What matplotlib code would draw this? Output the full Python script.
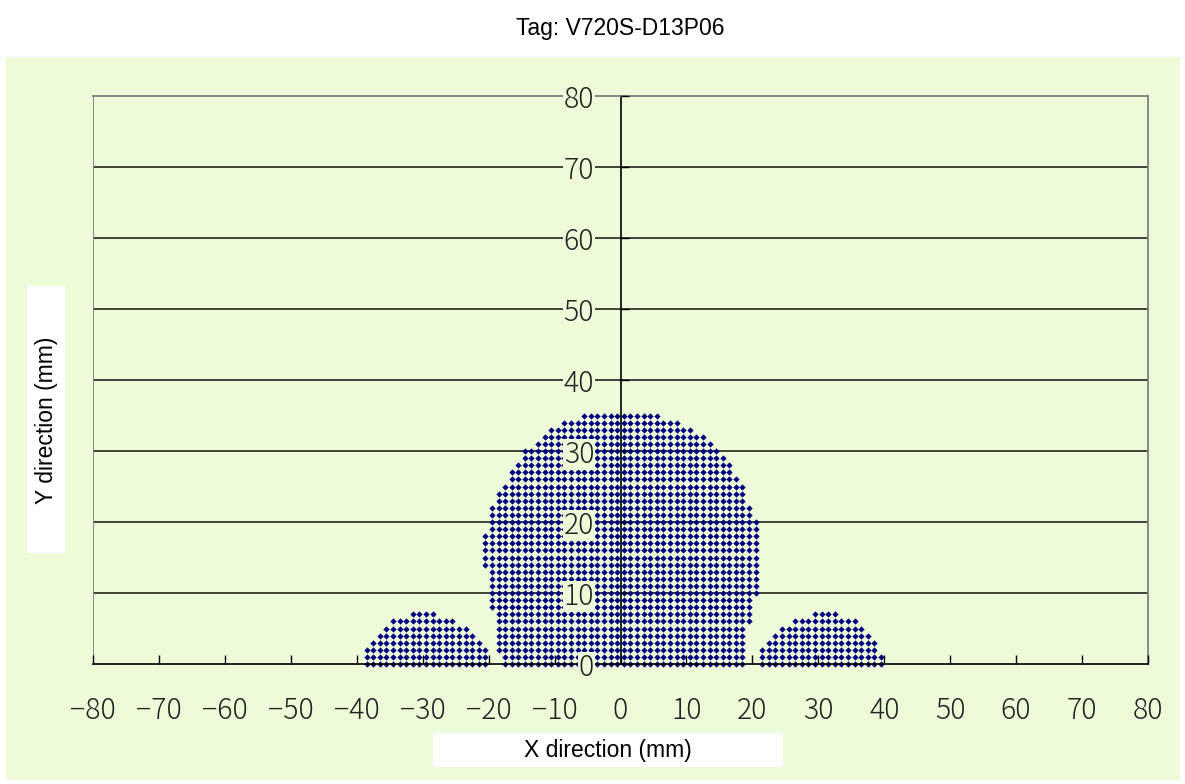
import matplotlib.pyplot as plt
import numpy as np
from matplotlib.patches import Rectangle

W, H = 1185, 784
GREEN = "#eefbd9"

# measured area, one row per y (mm); first / last x (mm) of the row, dots every 1 mm
center_y = list(range(0, 36))
center_x_from = [-17.5, -17.5, -18.5, -18.5, -18.5, -18.5, -18.5, -18.5, -19.5, -19.5,
                 -19.5, -19.5, -19.5, -19.5, -20.5, -20.5, -20.5, -20.5, -20.5, -19.5,
                 -19.5, -19.5, -19.5, -18.5, -18.5, -17.5, -16.5, -16.5, -15.5, -14.5,
                 -14.5, -12.5, -11.5, -10.5, -8.5, -5.5]
center_x_to = [18.5, 18.5, 18.5, 18.5, 18.5, 18.5, 19.5, 19.5, 19.5, 19.5,
               20.5, 20.5, 20.5, 20.5, 20.5, 20.5, 20.5, 20.5, 20.5, 20.5,
               20.5, 19.5, 19.5, 18.5, 18.5, 18.5, 17.5, 16.5, 16.5, 15.5,
               14.5, 13.5, 12.5, 10.5, 8.5, 5.5]

left_y = list(range(0, 8))
left_x_from = [-38.5, -38.5, -38.5, -37.5, -36.5, -35.5, -34.5, -31.5]
left_x_to = [-20.5, -20.5, -20.5, -21.5, -22.5, -23.5, -25.5, -28.5]

right_y = list(range(0, 8))
right_x_from = [21.5, 21.5, 21.5, 22.5, 23.5, 24.5, 26.5, 29.5]
right_x_to = [39.5, 39.5, 38.5, 38.5, 37.5, 36.5, 35.5, 32.5]

x_ticks = list(range(-80, 81, 10))
y_ticks = list(range(0, 81, 10))

title = "Tag: V720S-D13P06"
x_label = "X direction (mm)"
y_label = "Y direction (mm)"

xs, ys = [], []
for rows, x_from, x_to in [(center_y, center_x_from, center_x_to),
                           (left_y, left_x_from, left_x_to),
                           (right_y, right_x_from, right_x_to)]:
    for y, a, b in zip(rows, x_from, x_to):
        row = np.arange(a, b + 0.5, 1.0)
        xs.extend(row)
        ys.extend([y] * len(row))

tick_font = ['Noto Sans CJK JP', 'DejaVu Sans']
label_font = ['Liberation Sans', 'DejaVu Sans']

fig = plt.figure(figsize=(W / 100, H / 100), dpi=100)

# green chart area
fig.patches.append(Rectangle((6 / W, 1 - 780 / H), (1180 - 6) / W, (780 - 57) / H,
                             transform=fig.transFigure, facecolor=GREEN,
                             edgecolor='none', zorder=-5))

ax = fig.add_axes([93 / W, 1 - 664 / H, (1148 - 93) / W, (664 - 96) / H])
ax.set_facecolor('none')
ax.set_xlim(-80, 80)
ax.set_ylim(0, 80)
ax.set_axisbelow(False)

for y in y_ticks[1:-1]:
    ax.axhline(y, color='#111111', lw=1.1, zorder=1)
ax.axvline(-80, color='#808080', lw=1.3, zorder=1)

ax.plot(xs, ys, linestyle='none', marker='D', ms=3.2, mfc='#000080', mec='#000080',
        mew=0.0, clip_on=False, zorder=2.2)

ax.spines['left'].set_position(('data', 0))
ax.spines['left'].set_color('black')
ax.spines['left'].set_linewidth(1.2)
ax.spines['bottom'].set_color('black')
ax.spines['bottom'].set_linewidth(1.2)
ax.spines['top'].set_color('#808080')
ax.spines['top'].set_linewidth(1.3)
ax.spines['right'].set_color('#808080')
ax.spines['right'].set_linewidth(1.3)

ax.set_xticks(x_ticks)
ax.set_xticklabels([str(v).replace('-', '\u2212') for v in x_ticks])
ax.set_yticks(y_ticks)
ax.set_yticklabels([str(v) for v in y_ticks])
ax.tick_params(axis='x', direction='in', length=6.5, width=1.0, color='black', pad=23,
               labelsize=20.5, labelcolor='#222222')
ax.tick_params(axis='y', direction='in', length=6, width=1.0, color='black', pad=19,
               labelsize=20.5, labelcolor='#222222')
for lab in ax.get_xticklabels() + ax.get_yticklabels():
    lab.set_family(tick_font)
    lab.set_fontweight('light')
for lab in ax.get_yticklabels():
    lab.set_bbox(dict(facecolor=GREEN, edgecolor='none', pad=0.5))

# title and axis title boxes
fig.text(620 / W, 1 - 28 / H, title, ha='center', va='center', fontsize=16.5,
         family=label_font)

fig.patches.append(Rectangle((27 / W, 1 - 553 / H), 38 / W, (553 - 286) / H,
                             transform=fig.transFigure, facecolor='white',
                             edgecolor='none', zorder=1))
fig.text(46 / W, 1 - 420 / H, y_label, ha='center', va='center', rotation=90,
         fontsize=16.5, family=label_font)

fig.patches.append(Rectangle((433 / W, 1 - 767 / H), 350 / W, 34 / H,
                             transform=fig.transFigure, facecolor='white',
                             edgecolor='none', zorder=1))
fig.text(608 / W, 1 - 750 / H, x_label, ha='center', va='center',
         fontsize=16.5, family=label_font)

fig.savefig('out.png', dpi=100)
